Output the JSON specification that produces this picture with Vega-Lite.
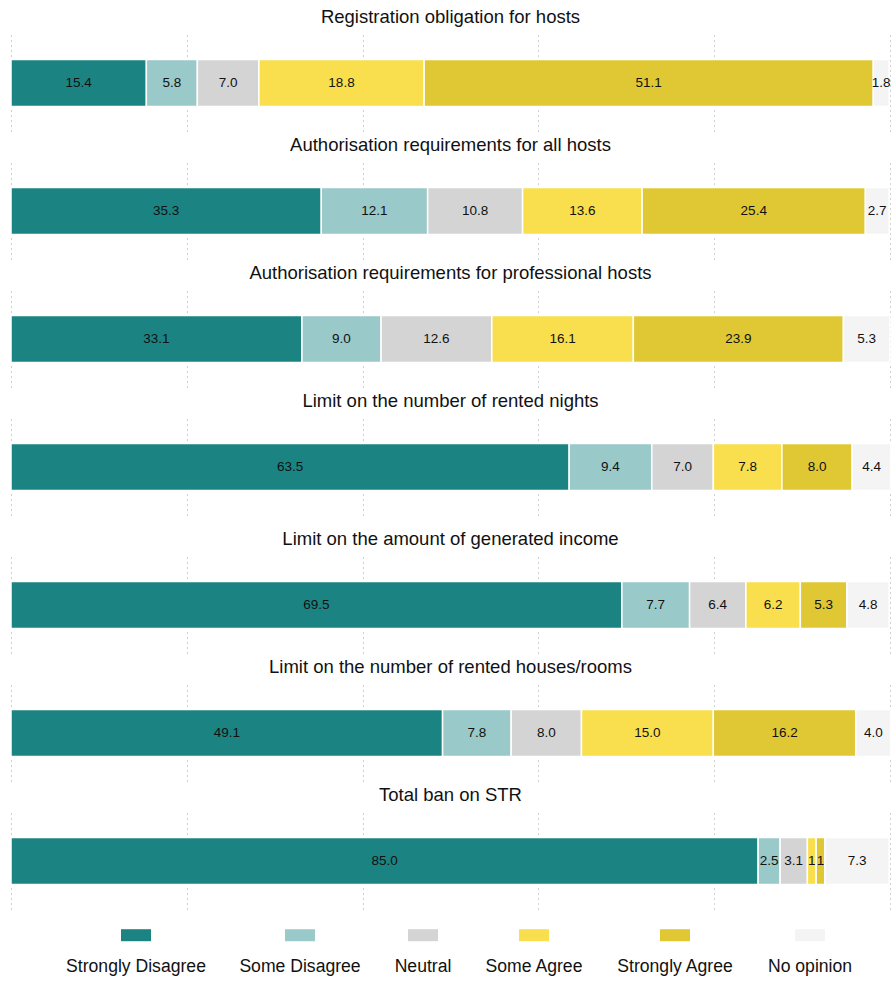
{
  "$schema": "https://vega.github.io/schema/vega-lite/v6.json",
  "padding": {"left": 10, "top": 8, "right": 2, "bottom": 5},
  "background": "white",
  "config": {
    "view": {"stroke": null},
    "font": "Liberation Sans",
    "title": {"fontSize": 18.5, "fontWeight": "normal", "font": "Liberation Sans", "color": "#111", "offset": 8.5, "anchor": "middle"},
    "text": {"font": "Liberation Sans"},
    "legend": {
      "orient": "none", "legendX": 110, "legendY": 917, "direction": "horizontal", "columns": 6, "title": null,
      "symbolType": "M-1,-2.533H1V-1.733H-1Z", "symbolSize": 900, "symbolStrokeWidth": 0,
      "labelFontSize": 17.6, "labelFont": "Liberation Sans", "labelColor": "#111", "labelAlign": "center", "labelBaseline": "middle",
      "labelOffset": -15, "columnPadding": 33, "labelLimit": 300
    }
  },
  "data": {
    "values": [
      {"q": "Registration obligation for hosts", "cat": "Strongly Disagree", "k": 1, "v": 15.4, "lbl": "15.4"},
      {"q": "Registration obligation for hosts", "cat": "Some Disagree", "k": 2, "v": 5.8, "lbl": "5.8"},
      {"q": "Registration obligation for hosts", "cat": "Neutral", "k": 3, "v": 7.0, "lbl": "7.0"},
      {"q": "Registration obligation for hosts", "cat": "Some Agree", "k": 4, "v": 18.8, "lbl": "18.8"},
      {"q": "Registration obligation for hosts", "cat": "Strongly Agree", "k": 5, "v": 51.1, "lbl": "51.1"},
      {"q": "Registration obligation for hosts", "cat": "No opinion", "k": 6, "v": 1.8, "lbl": "1.8"},
      {"q": "Authorisation requirements for all hosts", "cat": "Strongly Disagree", "k": 1, "v": 35.3, "lbl": "35.3"},
      {"q": "Authorisation requirements for all hosts", "cat": "Some Disagree", "k": 2, "v": 12.1, "lbl": "12.1"},
      {"q": "Authorisation requirements for all hosts", "cat": "Neutral", "k": 3, "v": 10.8, "lbl": "10.8"},
      {"q": "Authorisation requirements for all hosts", "cat": "Some Agree", "k": 4, "v": 13.6, "lbl": "13.6"},
      {"q": "Authorisation requirements for all hosts", "cat": "Strongly Agree", "k": 5, "v": 25.4, "lbl": "25.4"},
      {"q": "Authorisation requirements for all hosts", "cat": "No opinion", "k": 6, "v": 2.7, "lbl": "2.7"},
      {"q": "Authorisation requirements for professional hosts", "cat": "Strongly Disagree", "k": 1, "v": 33.1, "lbl": "33.1"},
      {"q": "Authorisation requirements for professional hosts", "cat": "Some Disagree", "k": 2, "v": 9.0, "lbl": "9.0"},
      {"q": "Authorisation requirements for professional hosts", "cat": "Neutral", "k": 3, "v": 12.6, "lbl": "12.6"},
      {"q": "Authorisation requirements for professional hosts", "cat": "Some Agree", "k": 4, "v": 16.1, "lbl": "16.1"},
      {"q": "Authorisation requirements for professional hosts", "cat": "Strongly Agree", "k": 5, "v": 23.9, "lbl": "23.9"},
      {"q": "Authorisation requirements for professional hosts", "cat": "No opinion", "k": 6, "v": 5.3, "lbl": "5.3"},
      {"q": "Limit on the number of rented nights", "cat": "Strongly Disagree", "k": 1, "v": 63.5, "lbl": "63.5"},
      {"q": "Limit on the number of rented nights", "cat": "Some Disagree", "k": 2, "v": 9.4, "lbl": "9.4"},
      {"q": "Limit on the number of rented nights", "cat": "Neutral", "k": 3, "v": 7.0, "lbl": "7.0"},
      {"q": "Limit on the number of rented nights", "cat": "Some Agree", "k": 4, "v": 7.8, "lbl": "7.8"},
      {"q": "Limit on the number of rented nights", "cat": "Strongly Agree", "k": 5, "v": 8.0, "lbl": "8.0"},
      {"q": "Limit on the number of rented nights", "cat": "No opinion", "k": 6, "v": 4.4, "lbl": "4.4"},
      {"q": "Limit on the amount of generated income", "cat": "Strongly Disagree", "k": 1, "v": 69.5, "lbl": "69.5"},
      {"q": "Limit on the amount of generated income", "cat": "Some Disagree", "k": 2, "v": 7.7, "lbl": "7.7"},
      {"q": "Limit on the amount of generated income", "cat": "Neutral", "k": 3, "v": 6.4, "lbl": "6.4"},
      {"q": "Limit on the amount of generated income", "cat": "Some Agree", "k": 4, "v": 6.2, "lbl": "6.2"},
      {"q": "Limit on the amount of generated income", "cat": "Strongly Agree", "k": 5, "v": 5.3, "lbl": "5.3"},
      {"q": "Limit on the amount of generated income", "cat": "No opinion", "k": 6, "v": 4.8, "lbl": "4.8"},
      {"q": "Limit on the number of rented houses/rooms", "cat": "Strongly Disagree", "k": 1, "v": 49.1, "lbl": "49.1"},
      {"q": "Limit on the number of rented houses/rooms", "cat": "Some Disagree", "k": 2, "v": 7.8, "lbl": "7.8"},
      {"q": "Limit on the number of rented houses/rooms", "cat": "Neutral", "k": 3, "v": 8.0, "lbl": "8.0"},
      {"q": "Limit on the number of rented houses/rooms", "cat": "Some Agree", "k": 4, "v": 15.0, "lbl": "15.0"},
      {"q": "Limit on the number of rented houses/rooms", "cat": "Strongly Agree", "k": 5, "v": 16.2, "lbl": "16.2"},
      {"q": "Limit on the number of rented houses/rooms", "cat": "No opinion", "k": 6, "v": 4.0, "lbl": "4.0"},
      {"q": "Total ban on STR", "cat": "Strongly Disagree", "k": 1, "v": 85.0, "lbl": "85.0"},
      {"q": "Total ban on STR", "cat": "Some Disagree", "k": 2, "v": 2.5, "lbl": "2.5"},
      {"q": "Total ban on STR", "cat": "Neutral", "k": 3, "v": 3.1, "lbl": "3.1"},
      {"q": "Total ban on STR", "cat": "Some Agree", "k": 4, "v": 1.0, "lbl": "1"},
      {"q": "Total ban on STR", "cat": "Strongly Agree", "k": 5, "v": 1.0, "lbl": "1"},
      {"q": "Total ban on STR", "cat": "No opinion", "k": 6, "v": 7.3, "lbl": "7.3"}
    ]
  },
  "resolve": {"scale": {"color": "shared"}},
  "spacing": 15,
  "vconcat": [
    {
      "spacing": 5,
      "vconcat": [
        {
          "title": "Registration obligation for hosts",
          "transform": [{"filter": "datum.q === 'Registration obligation for hosts'"}],
          "width": 879, "height": 96,
          "encoding": {
            "x": {"field": "v", "type": "quantitative", "stack": "zero", "scale": {"domain": [0, 100], "nice": false}, "axis": {"title": null, "labels": false, "ticks": false, "domain": false, "grid": true, "gridDash": [1, 4], "gridColor": "#a0a0a0", "values": [0, 20, 40, 60, 80, 100]}},
            "color": {"field": "cat", "type": "nominal", "scale": {"domain": ["Strongly Disagree", "Some Disagree", "Neutral", "Some Agree", "Strongly Agree", "No opinion"], "range": ["#1b8482", "#99c9c8", "#d4d4d4", "#f9df4d", "#e0c835", "#f4f4f4"]}},
            "order": {"field": "k", "type": "quantitative"}
          },
          "layer": [
            {"mark": {"type": "bar", "height": 47, "stroke": "white", "strokeWidth": 1.5}},
            {"mark": {"type": "text", "fontSize": 13.5}, "encoding": {"x": {"field": "v", "type": "quantitative", "stack": "zero", "bandPosition": 0.5}, "text": {"field": "lbl"}, "fill": {"value": "#111"}}}
          ]
        },
        {
          "title": "Authorisation requirements for all hosts",
          "transform": [{"filter": "datum.q === 'Authorisation requirements for all hosts'"}],
          "width": 879, "height": 96,
          "encoding": {
            "x": {"field": "v", "type": "quantitative", "stack": "zero", "scale": {"domain": [0, 100], "nice": false}, "axis": {"title": null, "labels": false, "ticks": false, "domain": false, "grid": true, "gridDash": [1, 4], "gridColor": "#a0a0a0", "values": [0, 20, 40, 60, 80, 100]}},
            "color": {"field": "cat", "type": "nominal", "scale": {"domain": ["Strongly Disagree", "Some Disagree", "Neutral", "Some Agree", "Strongly Agree", "No opinion"], "range": ["#1b8482", "#99c9c8", "#d4d4d4", "#f9df4d", "#e0c835", "#f4f4f4"]}},
            "order": {"field": "k", "type": "quantitative"}
          },
          "layer": [
            {"mark": {"type": "bar", "height": 47, "stroke": "white", "strokeWidth": 1.5}},
            {"mark": {"type": "text", "fontSize": 13.5}, "encoding": {"x": {"field": "v", "type": "quantitative", "stack": "zero", "bandPosition": 0.5}, "text": {"field": "lbl"}, "fill": {"value": "#111"}}}
          ]
        },
        {
          "title": "Authorisation requirements for professional hosts",
          "transform": [{"filter": "datum.q === 'Authorisation requirements for professional hosts'"}],
          "width": 879, "height": 96,
          "encoding": {
            "x": {"field": "v", "type": "quantitative", "stack": "zero", "scale": {"domain": [0, 100], "nice": false}, "axis": {"title": null, "labels": false, "ticks": false, "domain": false, "grid": true, "gridDash": [1, 4], "gridColor": "#a0a0a0", "values": [0, 20, 40, 60, 80, 100]}},
            "color": {"field": "cat", "type": "nominal", "scale": {"domain": ["Strongly Disagree", "Some Disagree", "Neutral", "Some Agree", "Strongly Agree", "No opinion"], "range": ["#1b8482", "#99c9c8", "#d4d4d4", "#f9df4d", "#e0c835", "#f4f4f4"]}},
            "order": {"field": "k", "type": "quantitative"}
          },
          "layer": [
            {"mark": {"type": "bar", "height": 47, "stroke": "white", "strokeWidth": 1.5}},
            {"mark": {"type": "text", "fontSize": 13.5}, "encoding": {"x": {"field": "v", "type": "quantitative", "stack": "zero", "bandPosition": 0.5}, "text": {"field": "lbl"}, "fill": {"value": "#111"}}}
          ]
        },
        {
          "title": "Limit on the number of rented nights",
          "transform": [{"filter": "datum.q === 'Limit on the number of rented nights'"}],
          "width": 879, "height": 96,
          "encoding": {
            "x": {"field": "v", "type": "quantitative", "stack": "zero", "scale": {"domain": [0, 100], "nice": false}, "axis": {"title": null, "labels": false, "ticks": false, "domain": false, "grid": true, "gridDash": [1, 4], "gridColor": "#a0a0a0", "values": [0, 20, 40, 60, 80, 100]}},
            "color": {"field": "cat", "type": "nominal", "scale": {"domain": ["Strongly Disagree", "Some Disagree", "Neutral", "Some Agree", "Strongly Agree", "No opinion"], "range": ["#1b8482", "#99c9c8", "#d4d4d4", "#f9df4d", "#e0c835", "#f4f4f4"]}},
            "order": {"field": "k", "type": "quantitative"}
          },
          "layer": [
            {"mark": {"type": "bar", "height": 47, "stroke": "white", "strokeWidth": 1.5}},
            {"mark": {"type": "text", "fontSize": 13.5}, "encoding": {"x": {"field": "v", "type": "quantitative", "stack": "zero", "bandPosition": 0.5}, "text": {"field": "lbl"}, "fill": {"value": "#111"}}}
          ]
        }
      ]
    },
    {
      "spacing": 5,
      "vconcat": [
        {
          "title": "Limit on the amount of generated income",
          "transform": [{"filter": "datum.q === 'Limit on the amount of generated income'"}],
          "width": 879, "height": 96,
          "encoding": {
            "x": {"field": "v", "type": "quantitative", "stack": "zero", "scale": {"domain": [0, 100], "nice": false}, "axis": {"title": null, "labels": false, "ticks": false, "domain": false, "grid": true, "gridDash": [1, 4], "gridColor": "#a0a0a0", "values": [0, 20, 40, 60, 80, 100]}},
            "color": {"field": "cat", "type": "nominal", "scale": {"domain": ["Strongly Disagree", "Some Disagree", "Neutral", "Some Agree", "Strongly Agree", "No opinion"], "range": ["#1b8482", "#99c9c8", "#d4d4d4", "#f9df4d", "#e0c835", "#f4f4f4"]}},
            "order": {"field": "k", "type": "quantitative"}
          },
          "layer": [
            {"mark": {"type": "bar", "height": 47, "stroke": "white", "strokeWidth": 1.5}},
            {"mark": {"type": "text", "fontSize": 13.5}, "encoding": {"x": {"field": "v", "type": "quantitative", "stack": "zero", "bandPosition": 0.5}, "text": {"field": "lbl"}, "fill": {"value": "#111"}}}
          ]
        },
        {
          "title": "Limit on the number of rented houses/rooms",
          "transform": [{"filter": "datum.q === 'Limit on the number of rented houses/rooms'"}],
          "width": 879, "height": 96,
          "encoding": {
            "x": {"field": "v", "type": "quantitative", "stack": "zero", "scale": {"domain": [0, 100], "nice": false}, "axis": {"title": null, "labels": false, "ticks": false, "domain": false, "grid": true, "gridDash": [1, 4], "gridColor": "#a0a0a0", "values": [0, 20, 40, 60, 80, 100]}},
            "color": {"field": "cat", "type": "nominal", "scale": {"domain": ["Strongly Disagree", "Some Disagree", "Neutral", "Some Agree", "Strongly Agree", "No opinion"], "range": ["#1b8482", "#99c9c8", "#d4d4d4", "#f9df4d", "#e0c835", "#f4f4f4"]}},
            "order": {"field": "k", "type": "quantitative"}
          },
          "layer": [
            {"mark": {"type": "bar", "height": 47, "stroke": "white", "strokeWidth": 1.5}},
            {"mark": {"type": "text", "fontSize": 13.5}, "encoding": {"x": {"field": "v", "type": "quantitative", "stack": "zero", "bandPosition": 0.5}, "text": {"field": "lbl"}, "fill": {"value": "#111"}}}
          ]
        },
        {
          "title": "Total ban on STR",
          "transform": [{"filter": "datum.q === 'Total ban on STR'"}],
          "width": 879, "height": 96,
          "encoding": {
            "x": {"field": "v", "type": "quantitative", "stack": "zero", "scale": {"domain": [0, 100], "nice": false}, "axis": {"title": null, "labels": false, "ticks": false, "domain": false, "grid": true, "gridDash": [1, 4], "gridColor": "#a0a0a0", "values": [0, 20, 40, 60, 80, 100]}},
            "color": {"field": "cat", "type": "nominal", "scale": {"domain": ["Strongly Disagree", "Some Disagree", "Neutral", "Some Agree", "Strongly Agree", "No opinion"], "range": ["#1b8482", "#99c9c8", "#d4d4d4", "#f9df4d", "#e0c835", "#f4f4f4"]}},
            "order": {"field": "k", "type": "quantitative"}
          },
          "layer": [
            {"mark": {"type": "bar", "height": 47, "stroke": "white", "strokeWidth": 1.5}},
            {"mark": {"type": "text", "fontSize": 13.5}, "encoding": {"x": {"field": "v", "type": "quantitative", "stack": "zero", "bandPosition": 0.5}, "text": {"field": "lbl"}, "fill": {"value": "#111"}}}
          ]
        }
      ]
    }
  ]
}
